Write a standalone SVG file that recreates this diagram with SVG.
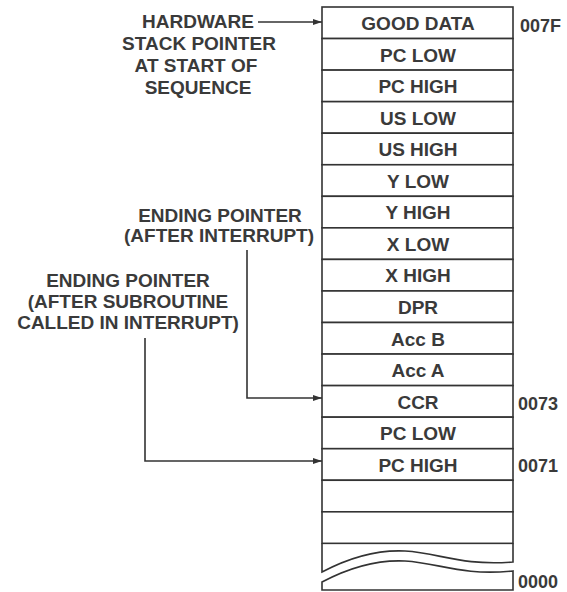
<svg xmlns="http://www.w3.org/2000/svg" width="567" height="592" viewBox="0 0 567 592">
<style>
.t{font-family:"Liberation Sans",Arial,sans-serif;font-weight:bold;font-size:19px;fill:#3a3a3a;text-anchor:middle}
.a{font-family:"Liberation Sans",Arial,sans-serif;font-weight:bold;font-size:18px;fill:#3a3a3a}
.ln{stroke:#333;stroke-width:1.6;fill:none}
.cell{fill:#fff;stroke:#333;stroke-width:1.6}
</style>
<defs>
<marker id="ah" markerUnits="userSpaceOnUse" markerWidth="10" markerHeight="8" refX="9" refY="3.5" orient="auto">
<path d="M0,0.5 L9,3.5 L0,6.5 z" fill="#333"/>
</marker>
</defs>
<rect width="567" height="592" fill="#fff"/>
<g id="stack">
<g id="cell-good-data"><rect class="cell" x="322" y="7" width="191" height="31.55"/><text class="t" x="418" y="30">GOOD DATA</text></g>
<g id="cell-pc-low-1"><rect class="cell" x="322" y="38.55" width="191" height="31.55"/><text class="t" x="418" y="61.5">PC LOW</text></g>
<g id="cell-pc-high-1"><rect class="cell" x="322" y="70.1" width="191" height="31.55"/><text class="t" x="418" y="93">PC HIGH</text></g>
<g id="cell-us-low"><rect class="cell" x="322" y="101.65" width="191" height="31.55"/><text class="t" x="418" y="124.6">US LOW</text></g>
<g id="cell-us-high"><rect class="cell" x="322" y="133.2" width="191" height="31.55"/><text class="t" x="418" y="156.2">US HIGH</text></g>
<g id="cell-y-low"><rect class="cell" x="322" y="164.75" width="191" height="31.55"/><text class="t" x="418" y="187.7">Y LOW</text></g>
<g id="cell-y-high"><rect class="cell" x="322" y="196.3" width="191" height="31.55"/><text class="t" x="418" y="219.3">Y HIGH</text></g>
<g id="cell-x-low"><rect class="cell" x="322" y="227.85" width="191" height="31.55"/><text class="t" x="418" y="250.8">X LOW</text></g>
<g id="cell-x-high"><rect class="cell" x="322" y="259.4" width="191" height="31.55"/><text class="t" x="418" y="282.4">X HIGH</text></g>
<g id="cell-dpr"><rect class="cell" x="322" y="290.95" width="191" height="31.55"/><text class="t" x="418" y="313.9">DPR</text></g>
<g id="cell-acc-b"><rect class="cell" x="322" y="322.5" width="191" height="31.55"/><text class="t" x="418" y="345.5">Acc B</text></g>
<g id="cell-acc-a"><rect class="cell" x="322" y="354.05" width="191" height="31.55"/><text class="t" x="418" y="377">Acc A</text></g>
<g id="cell-ccr"><rect class="cell" x="322" y="385.6" width="191" height="31.55"/><text class="t" x="418" y="408.6">CCR</text></g>
<g id="cell-pc-low-2"><rect class="cell" x="322" y="417.15" width="191" height="31.55"/><text class="t" x="418" y="440.1">PC LOW</text></g>
<g id="cell-pc-high-2"><rect class="cell" x="322" y="448.7" width="191" height="31.55"/><text class="t" x="418" y="471.7">PC HIGH</text></g>
<g id="cell-empty-1"><rect class="cell" x="322" y="480.25" width="191" height="31.55"/></g>
<g id="cell-empty-2"><rect class="cell" x="322" y="511.8" width="191" height="31.55"/></g>
<g id="cell-break">
<path class="ln" d="M322,543.35 L322,572 C358,553 385,550 405,551 C440,553 460,566 513,562 L513,543.35"/>
<path class="ln" d="M322,582 C358,563 385,560 405,561 C440,563 460,576 513,571 L513,590 L322,590 Z"/>
</g>
</g>
<g id="addresses">
<text class="a" x="520" y="32">007F</text>
<text class="a" x="518" y="410">0073</text>
<text class="a" x="518" y="472">0071</text>
<text class="a" x="518" y="588">0000</text>
</g>
<g id="label-hardware">
<text class="t" x="198" y="28">HARDWARE</text>
<text class="t" x="199" y="50">STACK POINTER</text>
<text class="t" x="196" y="72">AT START OF</text>
<text class="t" x="198" y="94">SEQUENCE</text>
</g>
<g id="label-interrupt">
<text class="t" x="220" y="222">ENDING POINTER</text>
<text class="t" x="219" y="242">(AFTER INTERRUPT)</text>
</g>
<g id="label-subroutine">
<text class="t" x="128" y="287">ENDING POINTER</text>
<text class="t" x="128" y="308">(AFTER SUBROUTINE</text>
<text class="t" x="128" y="329">CALLED IN INTERRUPT)</text>
</g>
<g id="connectors">
<path class="ln" d="M258,22 L322,22" marker-end="url(#ah)"/>
<path class="ln" d="M247,250 L247,398 L322,398" marker-end="url(#ah)"/>
<path class="ln" d="M145,338 L145,461 L322,461" marker-end="url(#ah)"/>
</g>
</svg>
